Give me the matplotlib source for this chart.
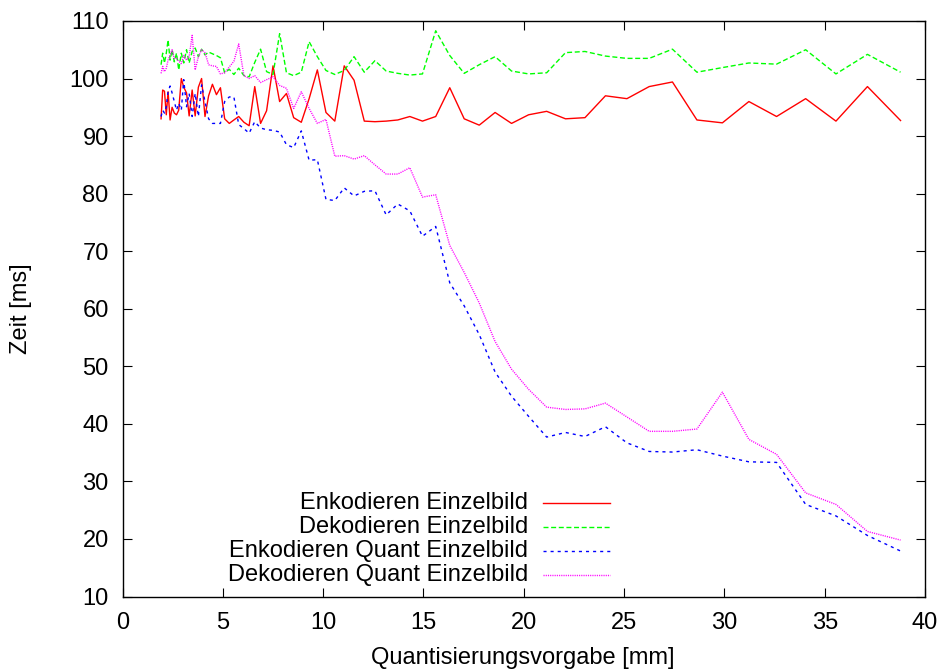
import numpy as np
import matplotlib
matplotlib.use('Agg')
import matplotlib.pyplot as plt

# Quantisierungsvorgabe [mm] (x positions of all four series)
x_mm = [1.92, 2.00, 2.09, 2.18, 2.27, 2.37, 2.47, 2.58, 2.69, 2.80,
        2.93, 3.05, 3.19, 3.32, 3.47, 3.62, 3.78, 3.94, 4.11, 4.29,
        4.48, 4.68, 4.88, 5.09, 5.32, 5.55, 5.79, 6.05, 6.31, 6.59,
        6.88, 7.18, 7.50, 7.83, 8.17, 8.53, 8.91, 9.30, 9.71, 10.14,
        10.58, 11.05, 11.54, 12.05, 12.58, 13.14, 13.72, 14.32, 14.95, 15.61,
        16.31, 17.03, 17.78, 18.57, 19.39, 20.24, 21.14, 22.08, 23.05, 24.07,
        25.14, 26.25, 27.41, 28.63, 29.90, 31.22, 32.60, 34.05, 35.56, 37.13,
        38.78]

# Zeit [ms]
enc = [93.0, 98.0, 97.8, 93.7, 97.7, 92.8, 95.0, 94.0, 93.7, 94.5,
       100.0, 98.5, 97.5, 93.5, 98.0, 93.5, 98.5, 100.0, 93.4, 97.0,
       99.0, 97.2, 98.4, 93.0, 92.2, 92.8, 93.4, 92.4, 91.8, 98.6,
       92.2, 94.4, 102.2, 96.0, 97.4, 93.2, 92.4, 96.5, 101.5, 94.1,
       92.6, 102.2, 99.7, 92.6, 92.5, 92.6, 92.8, 93.4, 92.6, 93.4,
       98.4, 93.0, 91.9, 94.1, 92.2, 93.7, 94.3, 93.0, 93.2, 97.0,
       96.5, 98.6, 99.4, 92.8, 92.3, 96.0, 93.4, 96.5, 92.6, 98.6,
       92.7]

dec = [102.4, 104.4, 102.7, 104.4, 106.7, 103.2, 105.0, 102.9, 104.4, 101.5,
       104.4, 102.7, 105.0, 102.7, 104.7, 105.3, 103.8, 105.1, 104.1, 104.6,
       104.3, 104.0, 103.6, 101.0, 101.6, 100.7, 101.8, 100.5, 100.3, 102.8,
       105.1, 101.2, 100.7, 107.8, 101.0, 100.5, 101.1, 106.4, 103.8, 101.4,
       100.7, 101.4, 103.8, 101.1, 103.1, 101.3, 100.9, 100.6, 100.8, 108.3,
       104.0, 100.9, 102.4, 103.8, 101.3, 100.8, 101.0, 104.5, 104.7, 103.9,
       103.5, 103.5, 105.1, 101.1, 101.9, 102.7, 102.5, 105.0, 100.8, 104.2,
       101.1]

enc_quant = [93.4, 94.5, 94.0, 95.1, 97.7, 98.7, 97.5, 96.0, 94.5, 95.7,
             94.5, 99.8, 95.1, 97.4, 93.4, 97.4, 93.4, 98.9, 96.0, 93.0,
             92.2, 92.2, 92.2, 96.0, 96.8, 96.8, 92.0, 91.3, 90.5, 92.5,
             91.4, 91.1, 91.0, 90.7, 88.5, 88.0, 90.9, 85.8, 85.9, 79.0,
             78.8, 81.0, 79.6, 80.4, 80.5, 76.3, 78.2, 77.0, 72.6, 74.3,
             64.5, 60.5, 55.5, 49.0, 44.8, 41.3, 37.7, 38.5, 37.8, 39.5,
             36.7, 35.2, 35.1, 35.5, 34.4, 33.4, 33.3, 26.0, 24.0, 20.6,
             17.9]

dec_quant = [100.9, 102.1, 101.2, 101.8, 103.2, 104.1, 105.0, 103.5, 103.5, 103.0,
             102.6, 104.0, 103.2, 103.8, 107.5, 101.5, 103.8, 105.0, 104.5, 102.4,
             102.2, 102.1, 100.8, 101.0, 102.0, 103.0, 106.0, 100.5, 100.0, 100.5,
             99.3, 99.8, 100.3, 98.8, 98.3, 94.8, 97.7, 94.8, 92.2, 92.9,
             86.5, 86.6, 86.0, 86.6, 85.0, 83.4, 83.4, 84.5, 79.4, 79.8,
             71.0, 66.3, 61.0, 54.3, 49.5, 46.0, 42.9, 42.5, 42.6, 43.6,
             41.2, 38.7, 38.7, 39.1, 45.5, 37.3, 34.7, 28.0, 26.0, 21.3,
             19.8]

labels = ['Enkodieren Einzelbild', 'Dekodieren Einzelbild',
          'Enkodieren Quant Einzelbild', 'Dekodieren Quant Einzelbild']
x_ticks = [0, 5, 10, 15, 20, 25, 30, 35, 40]
y_ticks = [10, 20, 30, 40, 50, 60, 70, 80, 90, 100, 110]

plt.rcParams['font.family'] = ['Liberation Sans', 'DejaVu Sans']

fig = plt.figure(figsize=(9.47, 6.70), dpi=100)
ax = fig.add_axes([0.1294, 0.1097, 0.8474, 0.8590])

series = [enc, dec, enc_quant, dec_quant]
colors = ['#ff0000', '#00ff00', '#0000ff', '#ff00ff']
dashes = [None, (3.6, 1.9), (2.2, 2.9), (0.8, 0.8)]

for y, c, d, lab in zip(series, colors, dashes, labels):
    line, = ax.plot(x_mm, y, color=c, lw=1.0, label=lab)
    if d is not None:
        line.set_dashes(d)

ax.set_xlim(0, 40)
ax.set_ylim(10, 110)
ax.set_xticks(x_ticks)
ax.set_yticks(y_ticks)
ax.tick_params(direction='in', length=6.5, width=0.8, top=True, right=True,
               labelsize=17, colors='black')
ax.tick_params(axis='x', pad=11.5)
ax.tick_params(axis='y', pad=10)
for s in ax.spines.values():
    s.set_linewidth(1.0)

ax.set_xlabel('Quantisierungsvorgabe [mm]', fontsize=17)
ax.set_ylabel('Zeit [ms]', fontsize=17)
ax.xaxis.set_label_coords(0.499, -0.087)
ax.yaxis.set_label_coords(-0.113, 0.5)

# gnuplot style key: right-aligned text, sample line on the right
key_y = 0.1627
for line, lab in zip(ax.get_lines(), labels):
    ax.text(0.5053, key_y, lab, transform=ax.transAxes, ha='right', va='center',
            fontsize=17)
    sample, = ax.plot([0.524, 0.6075], [key_y, key_y], transform=ax.transAxes,
                      color=line.get_color(), lw=1.0, clip_on=False)
    sample.set_linestyle(line.get_linestyle())
    if line.get_linestyle() != '-':
        sample.set_dashes(line._unscaled_dash_pattern[1])
    key_y -= 0.0417

fig.savefig('out.png', dpi=100)
